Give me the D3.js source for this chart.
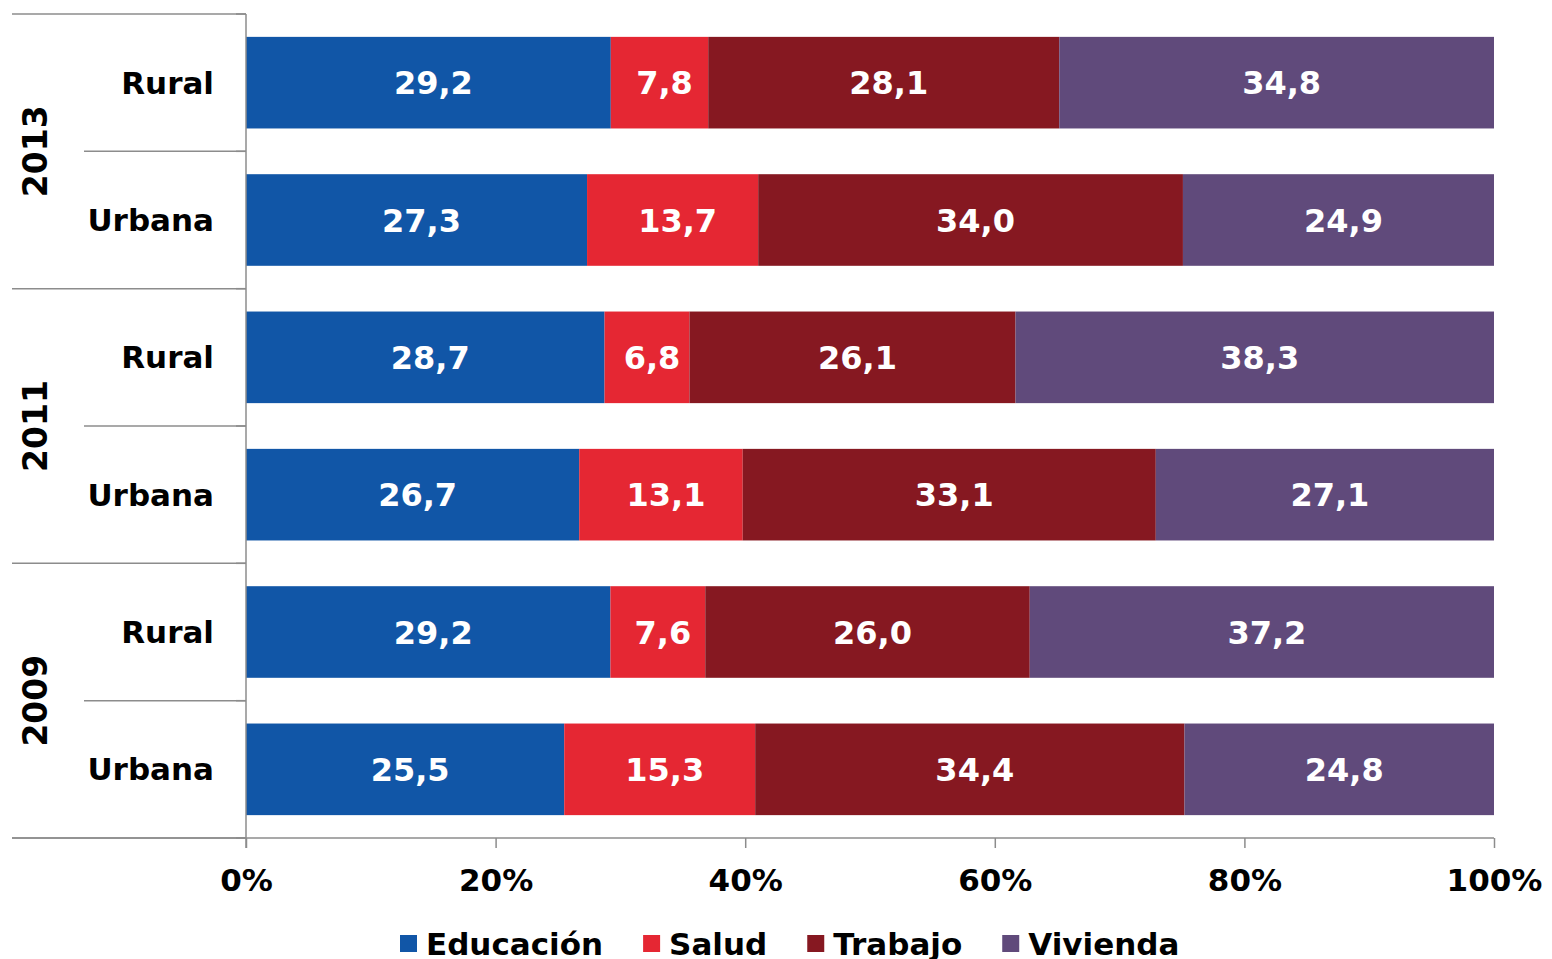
<!DOCTYPE html>
<html>
<head>
<meta charset="utf-8">
<script src="https://cdn.jsdelivr.net/npm/d3@7"></script>
<style>
  html, body { margin: 0; padding: 0; background: #fff; }
  svg { display: block; }
  text { font-family: Verdana, "DejaVu Sans", sans-serif; font-weight: bold; }
</style>
</head>
<body>
<svg id="chart" width="1552" height="959"></svg>
<script>
// Rows from top to bottom
const years = ["2013", "2013", "2011", "2011", "2009", "2009"];
const zones = ["Rural", "Urbana", "Rural", "Urbana", "Rural", "Urbana"];
const seriesNames = ["Educación", "Salud", "Trabajo", "Vivienda"];
const educacion = [29.2, 27.3, 28.7, 26.7, 29.2, 25.5];
const salud     = [7.8, 13.7, 6.8, 13.1, 7.6, 15.3];
const trabajo   = [28.1, 34.0, 26.1, 33.1, 26.0, 34.4];
const vivienda  = [34.8, 24.9, 38.3, 27.1, 37.2, 24.8];
const xTicks = [0, 0.2, 0.4, 0.6, 0.8, 1.0];
const colors = ["#1156A7", "#E52733", "#861821", "#604A7B"];

const rows = years.map((yr, i) => ({
  key: yr + "-" + zones[i], year: yr, zone: zones[i],
  "Educación": educacion[i], "Salud": salud[i], "Trabajo": trabajo[i], "Vivienda": vivienda[i]
}));

const svg = d3.select("#chart");
const plotLeft = 246, plotRight = 1494, plotTop = 14, plotBottom = 838;
const axisColor = "#8C8C8C";

const x = d3.scaleLinear().domain([0, 1]).range([plotLeft, plotRight]);
const y = d3.scaleBand().domain(rows.map(r => r.key)).range([plotTop, plotBottom])
  .paddingInner(0.333).paddingOuter(0.1665);
const color = d3.scaleOrdinal().domain(seriesNames).range(colors);

const stack = d3.stack().keys(seriesNames).offset(d3.stackOffsetExpand);
const series = stack(rows);

// Stacked bars with value labels
const g = svg.append("g");
series.forEach(s => {
  g.selectAll(null).data(s).join("rect")
    .attr("x", d => x(d[0]))
    .attr("y", d => y(d.data.key))
    .attr("width", d => x(d[1]) - x(d[0]))
    .attr("height", y.bandwidth())
    .attr("fill", color(s.key));
  g.selectAll(null).data(s).join("text")
    .attr("x", d => (x(d[0]) + x(d[1])) / 2)
    .attr("y", d => y(d.data.key) + y.bandwidth() / 2)
    .attr("dx", 5)
    .attr("dy", "0.36em")
    .attr("text-anchor", "middle")
    .attr("fill", "#fff")
    .attr("font-size", 32)
    .text(d => d.data[s.key].toFixed(1).replace(".", ","));
});

// Bottom axis
const xAxis = d3.axisBottom(x).tickValues(xTicks).tickFormat(d3.format(".0%"))
  .tickSize(10).tickSizeOuter(0).tickPadding(21);
const ax = svg.append("g").attr("transform", `translate(0,${plotBottom})`).call(xAxis);
ax.select(".domain").remove();
ax.selectAll(".tick line").attr("stroke", axisColor).attr("stroke-width", 1.5);
ax.selectAll(".tick text").attr("fill", "#000").attr("font-size", 31)
  .style("font-family", "Verdana, 'DejaVu Sans', sans-serif").style("font-weight", "bold");

// Axis lines
svg.append("line").attr("x1", 12).attr("x2", plotRight).attr("y1", plotBottom).attr("y2", plotBottom)
  .attr("stroke", axisColor).attr("stroke-width", 1.5);
svg.append("line").attr("x1", plotLeft).attr("x2", plotLeft).attr("y1", plotTop).attr("y2", plotBottom + 10)
  .attr("stroke", axisColor).attr("stroke-width", 1.5);

// Category boundaries on the left
const boundaries = d3.range(0, rows.length + 1).map(i => plotTop + i * (plotBottom - plotTop) / rows.length);
boundaries.forEach((b, i) => {
  const x1 = (i % 2 === 0) ? 12 : 84;
  svg.append("line").attr("x1", x1).attr("x2", plotLeft).attr("y1", b).attr("y2", b)
    .attr("stroke", axisColor).attr("stroke-width", 1.5);
  svg.append("line").attr("x1", plotLeft - 10).attr("x2", plotLeft).attr("y1", b).attr("y2", b)
    .attr("stroke", axisColor).attr("stroke-width", 1.5);
});

// Zone labels
svg.append("g").selectAll("text").data(rows).join("text")
  .attr("x", 214)
  .attr("y", d => y(d.key) + y.bandwidth() / 2)
  .attr("dy", "0.36em")
  .attr("text-anchor", "end")
  .attr("font-size", 31)
  .attr("fill", "#000")
  .text(d => d.zone);

// Year labels (rotated)
const yearGroups = Array.from(d3.group(rows, d => d.year), ([k, v]) => ({ year: k, rows: v }));
svg.append("g").selectAll("text").data(yearGroups).join("text")
  .attr("transform", d => {
    const cy = (y(d.rows[0].key) + y(d.rows[d.rows.length - 1].key) + y.bandwidth()) / 2;
    return `translate(35,${cy}) rotate(-90)`;
  })
  .attr("dy", "0.36em")
  .attr("text-anchor", "middle")
  .attr("font-size", 33)
  .attr("fill", "#000")
  .text(d => d.year);

// Legend
const legend = svg.append("g");
let lx = 400;
seriesNames.forEach(name => {
  legend.append("rect").attr("x", lx).attr("y", 935).attr("width", 17).attr("height", 17)
    .attr("fill", color(name));
  const t = legend.append("text").attr("x", lx + 26).attr("y", 955)
    .attr("font-size", 31).attr("fill", "#000").text(name);
  lx += 26 + t.node().getComputedTextLength() + 40;
});
</script>
</body>
</html>
